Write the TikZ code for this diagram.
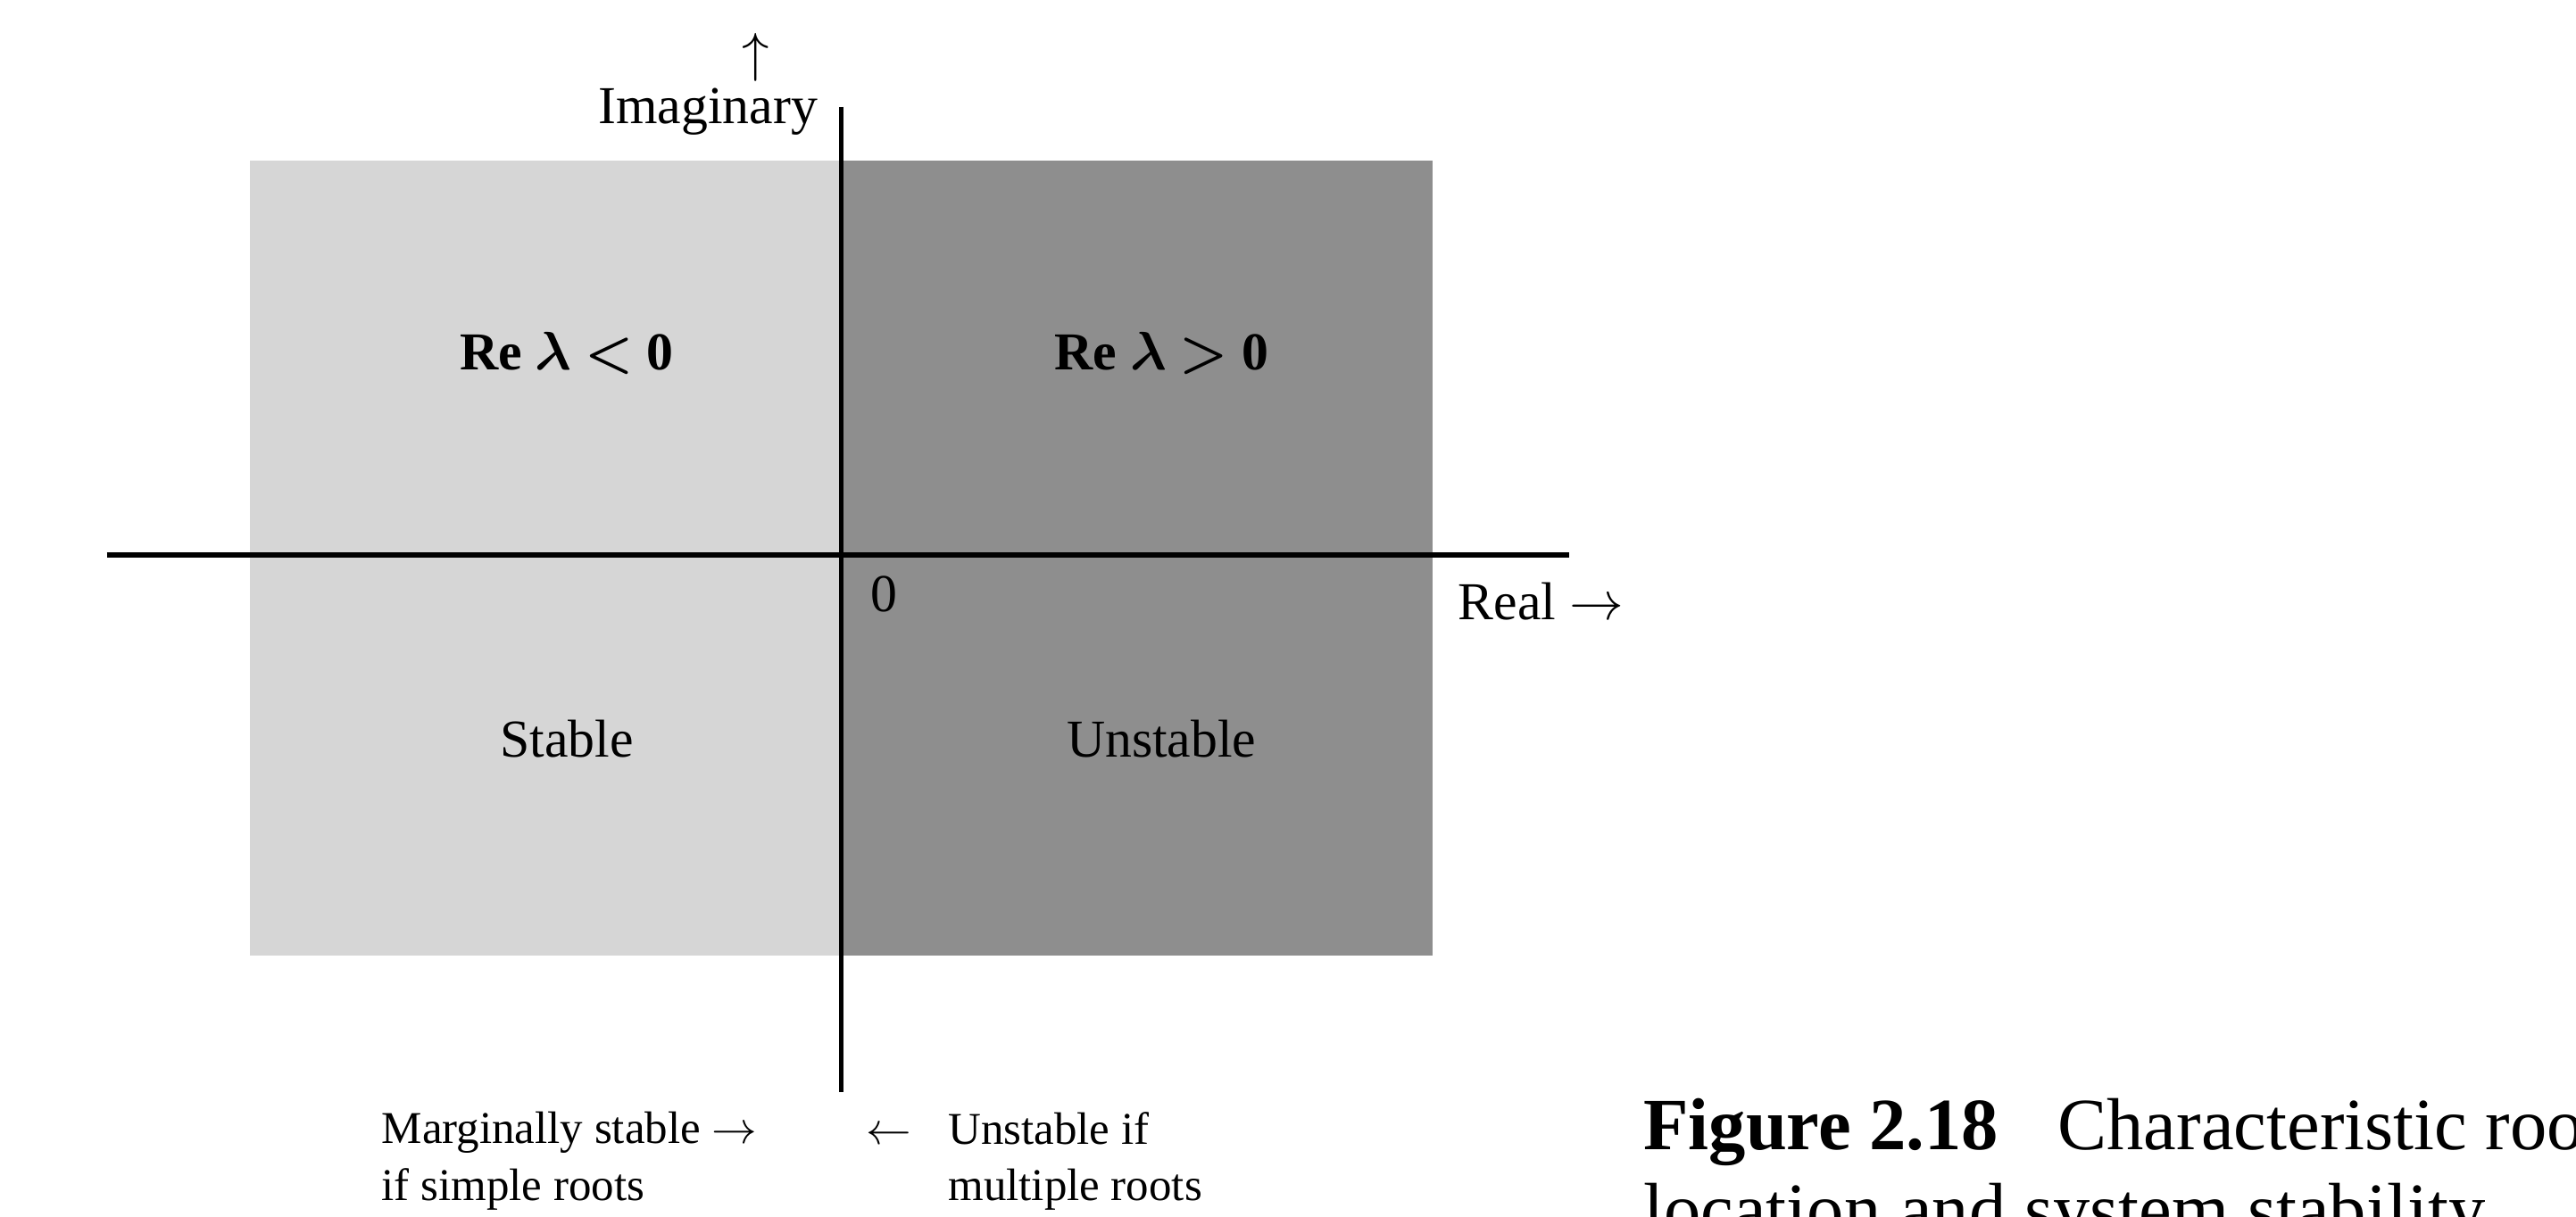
\documentclass[tikz,border=0pt]{standalone}
\usepackage{amsmath}
\usepackage{bm}
\usepackage{fontspec}
\setmainfont{Liberation Serif}
\usetikzlibrary{positioning}
\definecolor{stablegray}{HTML}{D6D6D6}
\definecolor{unstablegray}{HTML}{8E8E8E}
\tikzset{
  region/.style={font=\fontsize{17}{20}\selectfont},
  note/.style={font=\fontsize{14.5}{18}\selectfont, align=left, inner sep=0pt},
  axis/.style={line width=1.5pt, black}
}
\begin{document}
\begin{tikzpicture}[x=0.0184cm,y=-0.0184cm]
  \useasboundingbox[fill=white] (0,0) rectangle (1568,741);
  % half planes
  \fill[stablegray] (152,98) rectangle (512,582);
  \fill[unstablegray] (512,98) rectangle (872,582);

  % axes
  \coordinate (xl) at (65,338);
  \coordinate (xr) at (955,338);
  \coordinate (yt) at (512,65);
  \coordinate (yb) at (512,665);
  \draw[axis] (xl) -- (xr);
  \draw[axis] (yt) -- (yb);

  % axis labels
  \node[region, anchor=east, inner sep=0pt] (imag) at (498,68) {Imaginary};
  \node[region] (uparr) at (460,35) {$\uparrow$};
  \node[region] (zero) at (538,362) {0};
  \node[region] (real) at (938,366) {Real $\rightarrow$};

  % regions
  \node[region] (relt) at (345,215) {\textbf{Re $\bm{\lambda}$ $\bm{<}$ 0}};
  \node[region] (regt) at (707,215) {\textbf{Re $\bm{\lambda}$ $\bm{>}$ 0}};
  \node[region] (stab) at (345,450) {Stable};
  \node[region] (unst) at (707,450) {Unstable};

  % notes under the axis
  \node[note, anchor=west] (marg) at (232,707) {Marginally stable $\rightarrow$\\if simple roots};
  \node[note, anchor=west] (mult) at (527,707) {$\leftarrow$\;\; Unstable if\\\hphantom{$\leftarrow$\;\; }multiple roots};

  % caption
  \node[anchor=west, align=left, inner sep=0pt, font=\fontsize{23.5}{27}\selectfont] (cap) at (1000,715)
    {\textbf{Figure 2.18}\;\; Characteristic roots\\location and system stability.};
\end{tikzpicture}
\end{document}
